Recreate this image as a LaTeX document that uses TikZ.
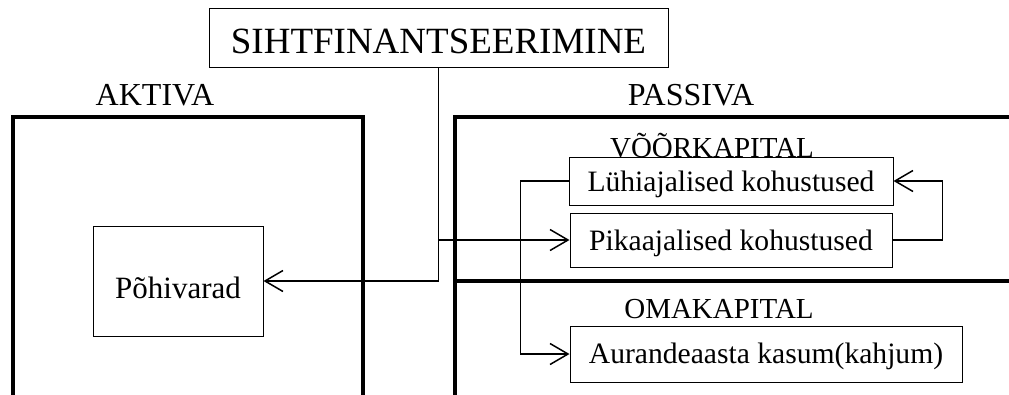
\documentclass[tikz,border=0pt]{standalone}
\usepackage{fontspec}
\setmainfont{Liberation Serif}
\usetikzlibrary{arrows.meta}
\begin{document}
\begin{tikzpicture}[x=1pt,y=-1pt,
  frame/.style={line width=4.5pt},
  conn/.style={line width=1.5pt},
  barb/.style={-{Straight Barb[length=18pt,width=21pt,line width=1.5pt]}},
  box/.style={draw,line width=1pt,inner sep=0pt,font=\fontsize{29.6}{30}\selectfont,text depth=0pt},
  head/.style={anchor=base,inner sep=0pt,font=\fontsize{32}{34}\selectfont},
  sub/.style={anchor=base,inner sep=0pt,font=\fontsize{29}{30}\selectfont}]
\useasboundingbox (0,0) rectangle (1009,394);
\clip (0,0) rectangle (1009,394);

% balance frames
\draw[frame] (13,410) -- (13,117) -- (363,117) -- (363,410);
\draw[frame] (455,410) -- (455,117) -- (1020,117);
\draw[frame] (455,281) -- (1020,281);

% headings
\node[head] (aktiva) at (155,105) {AKTIVA};
\node[head] (passiva) at (691,105) {PASSIVA};
\node[sub] (voor) at (712,157) {VÕÕRKAPITAL};
\node[sub] (oma) at (719,318) {OMAKAPITAL};

% boxes
\node[box,minimum width=459pt,minimum height=59pt,text height=31pt,
      font=\fontsize{37}{38}\selectfont,fill=white] (sih) at (438.5,37.5) {SIHTFINANTSEERIMINE};
\node[box,minimum width=170pt,minimum height=110pt,text height=34pt,
      font=\fontsize{31}{32}\selectfont] (poh) at (178,281) {Põhivarad};
\node[box,minimum width=324pt,minimum height=48pt,text height=20pt,fill=white] (luh) at (731,181) {Lühiajalised kohustused};
\node[box,minimum width=322pt,minimum height=54pt,text height=20pt] (pika) at (731,240) {Pikaajalised kohustused};
\node[box,minimum width=392pt,minimum height=56pt,text height=18pt] (aur) at (766,354) {Aurandeaasta kasum(kahjum)};

% connectors
\coordinate (br) at (sih.south |- pika.west);
\draw[conn,barb] (sih.south) |- (poh.east);
\draw[conn,barb] (br) -- (pika.west);
\draw[conn,barb] (luh.west) -- ++(-48,0) |- (aur.west);
\draw[conn,barb] (pika.east) -- ++(50,0) |- (luh.east);
\end{tikzpicture}
\end{document}
